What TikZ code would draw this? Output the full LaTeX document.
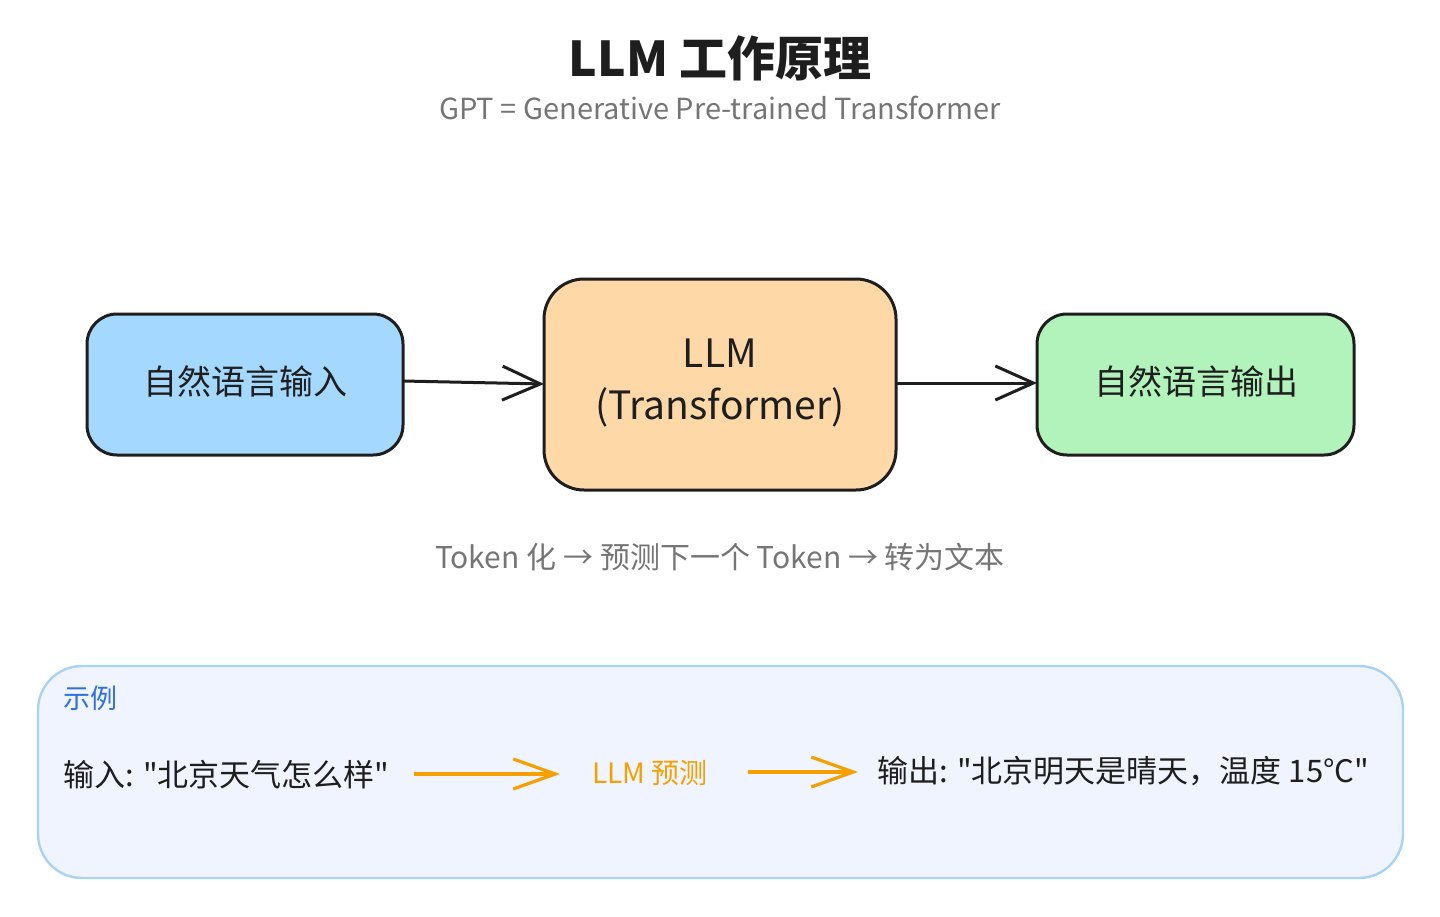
\documentclass[tikz,border=0pt]{standalone}
\usepackage{fontspec}
\setmainfont{Noto Sans CJK SC}[Ligatures=TeXOff]
\usetikzlibrary{arrows.meta}
\definecolor{inblue}{HTML}{A5D8FF}
\definecolor{midorange}{HTML}{FFD8A8}
\definecolor{outgreen}{HTML}{B2F2BB}
\definecolor{txtgray}{HTML}{757575}
\definecolor{exfill}{HTML}{F0F4FE}
\definecolor{exstroke}{HTML}{A9D2F5}
\definecolor{exblue}{HTML}{2F6FE0}
\definecolor{exorange}{HTML}{F59F00}
\definecolor{ink}{HTML}{1E1E1E}
\tikzset{
  flowbox/.style={draw=ink, line width=1.5pt, rounded corners=15pt},
  flowarrow/.style={draw=ink, line width=1.5pt, -{Straight Barb[length=19pt,width=17pt,line width=1.5pt]}},
  exarrow/.style={draw=exorange, line width=1.6pt, -{Straight Barb[length=21pt,width=15pt,line width=1.6pt]}},
}
\begin{document}
\begin{tikzpicture}[x=0.5pt,y=-0.5pt]
\useasboundingbox[fill=white] (0,0) rectangle (1440,916);
% title
\node[font=\fontsize{24}{28}\selectfont\bfseries, text=ink] (title) at (720,58) {LLM 工作原理};
\node[font=\fontsize{14.5}{17}\selectfont, text=txtgray] (subtitle) at (720,108) {GPT = Generative Pre-trained Transformer};
% boxes
\path[flowbox, fill=inblue] (87,314) rectangle (403,455);
\node[font=\fontsize{17}{20}\selectfont, text=ink] (in) at (245,381) {自然语言输入};
\coordinate (inR) at (403,381);
\path[flowbox, fill=midorange, rounded corners=20pt] (544,279) rectangle (896,490);
\node[font=\fontsize{19.5}{26}\selectfont, text=ink, align=center] (llm) at (720,383) {LLM\\(Transformer)};
\coordinate (llmL) at (544,384);
\coordinate (llmR) at (896,383);
\path[flowbox, fill=outgreen] (1037,314) rectangle (1354,455);
\node[font=\fontsize{17}{20}\selectfont, text=ink] (out) at (1196,381) {自然语言输出};
\coordinate (outL) at (1037,383);
\draw[flowarrow] (inR) -- (llmL);
\draw[flowarrow] (llmR) -- (outL);
% process text
\node[font=\fontsize{15}{18}\selectfont, text=txtgray] (proc) at (720,557) {Token 化 → 预测下一个 Token → 转为文本};
% example box
\path[draw=exstroke, line width=1.2pt, fill=exfill, rounded corners=22pt] (38,666) rectangle (1403,878);
\node[font=\fontsize{13.5}{16}\selectfont, text=exblue, anchor=west, inner sep=0pt] (exlabel) at (63,698) {示例};
\node[font=\fontsize{15.5}{18}\selectfont, text=ink, anchor=west, inner sep=0pt] (exin) at (63,775) {输入: "北京天气怎么样"};
\node[font=\fontsize{14}{17}\selectfont, text=exorange] (expred) at (650,773) {LLM 预测};
\node[font=\fontsize{15.5}{18}\selectfont, text=ink, anchor=west, inner sep=0pt] (exout) at (877,771) {输出: "北京明天是晴天，温度 15°C"};
\coordinate (a1s) at (414,774);
\coordinate (a1e) at (560,774);
\coordinate (a2s) at (748,772);
\coordinate (a2e) at (858,772);
\draw[exarrow] (a1s) -- (a1e);
\draw[exarrow] (a2s) -- (a2e);
\end{tikzpicture}
\end{document}
